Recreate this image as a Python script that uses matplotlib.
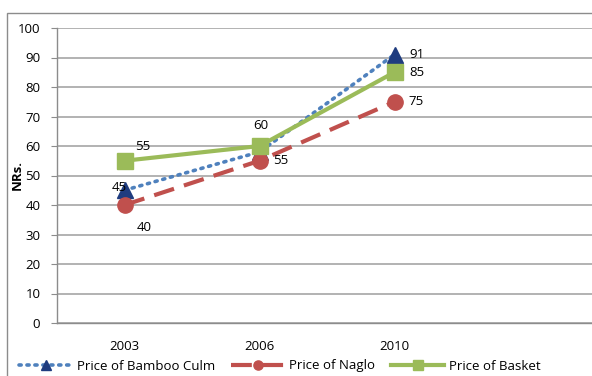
import matplotlib
matplotlib.use("Agg")
import matplotlib.pyplot as plt
from matplotlib.patches import Rectangle

years = ["2003", "2006", "2010"]
bamboo = [45, 58, 91]
naglo = [40, 55, 75]
basket = [55, 60, 85]
yticks = [0, 10, 20, 30, 40, 50, 60, 70, 80, 90, 100]

plt.rcParams["font.family"] = ["Open Sans", "DejaVu Sans"]

W, H = 592, 376
fig = plt.figure(figsize=(W / 100, H / 100), dpi=100)

# plot area in pixel coordinates
left, right, top, bottom = 57, 597, 28, 323
ax = fig.add_axes([left / W, 1 - bottom / H, (right - left) / W, (bottom - top) / H])

# outer chart border
fig.patches.append(Rectangle((7 / W, -0.1), 1.2, 1 - 13 / H + 0.1, transform=fig.transFigure,
                             fill=False, edgecolor="#8c8c8c", linewidth=1.0))

x = list(range(len(years)))
l1, = ax.plot(x, bamboo, linestyle=(0, (0.6, 1.6)), color="#4F81BD", linewidth=2.6,
              marker="^", markersize=12, markerfacecolor="#1F3C7F", markeredgecolor="#1F3C7F",
              dash_capstyle="round", zorder=3, label="Price of Bamboo Culm")
l2, = ax.plot(x, naglo, linestyle=(0, (5, 2.5)), color="#C0504D", linewidth=3,
              marker="o", markersize=11, markerfacecolor="#C0504D", markeredgecolor="#C0504D",
              zorder=3, label="Price of Naglo")
l3, = ax.plot(x, basket, linestyle="-", color="#9BBB59", linewidth=3,
              marker="s", markersize=12, markerfacecolor="#9BBB59", markeredgecolor="#9BBB59",
              zorder=4, label="Price of Basket")

fs = 9.5
# value labels
ax.annotate(str(bamboo[0]), (x[0], bamboo[0]), xytext=(-4, 2), textcoords="offset points",
            ha="center", va="center", fontsize=fs, zorder=5)
ax.annotate(str(bamboo[2]), (x[2], bamboo[2]), xytext=(11, 0), textcoords="offset points",
            ha="left", va="center", fontsize=fs, zorder=5)
ax.annotate(str(naglo[0]), (x[0], naglo[0]), xytext=(14, -16), textcoords="offset points",
            ha="center", va="center", fontsize=fs, zorder=5)
ax.annotate(str(naglo[1]), (x[1], naglo[1]), xytext=(10, 0), textcoords="offset points",
            ha="left", va="center", fontsize=fs, zorder=5)
ax.annotate(str(naglo[2]), (x[2], naglo[2]), xytext=(10, 0), textcoords="offset points",
            ha="left", va="center", fontsize=fs, zorder=5)
ax.annotate(str(basket[0]), (x[0], basket[0]), xytext=(13, 10), textcoords="offset points",
            ha="center", va="center", fontsize=fs, zorder=5)
ax.annotate(str(basket[1]), (x[1], basket[1]), xytext=(1, 15), textcoords="offset points",
            ha="center", va="center", fontsize=fs, zorder=5)
ax.annotate(str(basket[2]), (x[2], basket[2]), xytext=(11, 0), textcoords="offset points",
            ha="left", va="center", fontsize=fs, zorder=5)

ax.set_xlim(-0.5, 3.5)
ax.set_ylim(0, 100)
ax.set_yticks(yticks)
ax.set_xticks(x)
ax.set_xticklabels(years)
ax.tick_params(axis="y", length=4, color="#8c8c8c", labelsize=fs, pad=8)
ax.tick_params(axis="x", length=0, labelsize=fs, pad=12)
ax.grid(axis="y", color="#a6a6a6", linewidth=1.2)
ax.set_axisbelow(True)
for s in ["top", "right"]:
    ax.spines[s].set_visible(False)
for s in ["left", "bottom"]:
    ax.spines[s].set_color("#8c8c8c")
    ax.spines[s].set_linewidth(1.0)

fig.text(17 / W, 1 - 175 / H, "NRs.", rotation=90, ha="center", va="center",
         fontsize=fs, fontweight="bold")

fig.legend(handles=[l1, l2, l3], loc="center", bbox_to_anchor=(280 / W, 1 - 366 / H),
           ncol=3, frameon=False, fontsize=fs, handlelength=4, handletextpad=0.4,
           columnspacing=1.2, markerscale=0.6)

fig.savefig("out.png", dpi=100)
